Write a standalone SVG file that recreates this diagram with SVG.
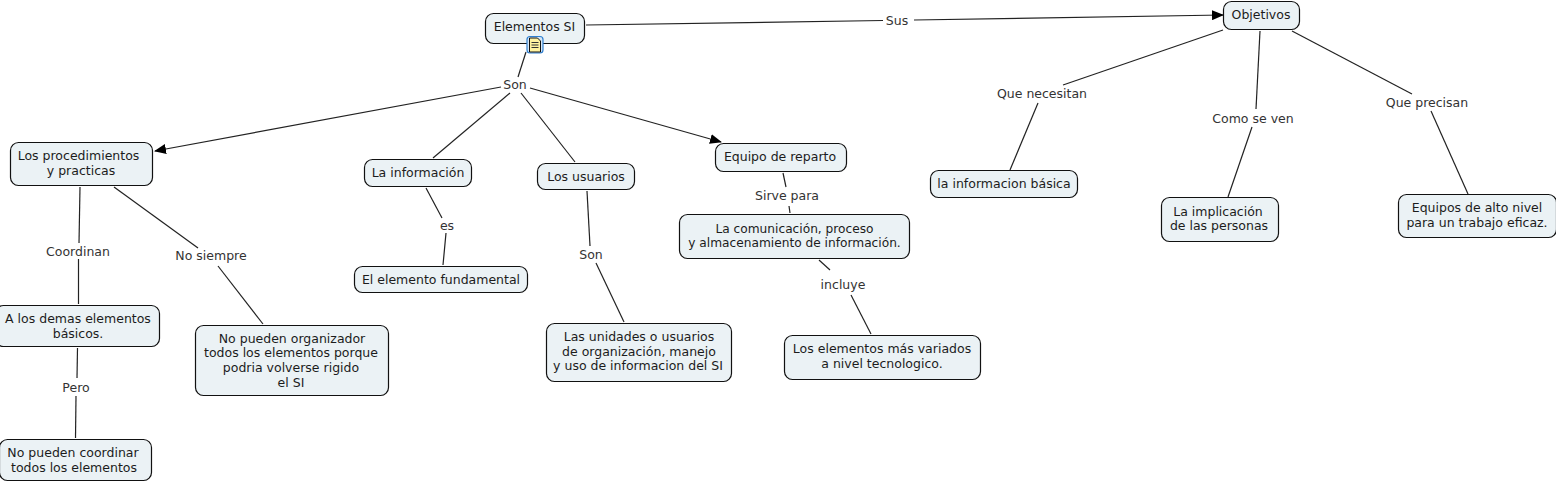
<svg xmlns="http://www.w3.org/2000/svg" width="1556" height="483" viewBox="0 0 1556 483">
<style>
text{font-family:"DejaVu Sans",Verdana,sans-serif;font-size:12.500px;fill:#1c1c1c;text-anchor:middle}
.n{fill:#ebf2f5;stroke:#111;stroke-width:1.2}
.l{fill:#333}
.t{font-size:12.200px}
#connectors line{stroke:#222;stroke-width:1.2}
</style>
<defs><marker id="a" markerUnits="userSpaceOnUse" markerWidth="12" markerHeight="10" refX="11" refY="5" orient="auto"><path d="M0 0L12 5L0 10Z" fill="#000"/></marker></defs>
<rect width="1556" height="483" fill="#fff"/>
<g id="connectors">
<line x1="586" y1="25" x2="883" y2="20.5"/><line x1="914" y1="20" x2="1223" y2="15" marker-end="url(#a)"/>
<line x1="526" y1="52" x2="518" y2="77"/>
<line x1="501" y1="87" x2="155" y2="151" marker-end="url(#a)"/>
<line x1="510" y1="93" x2="433" y2="158"/>
<line x1="521" y1="93" x2="575" y2="162"/>
<line x1="530" y1="88" x2="721" y2="142" marker-end="url(#a)"/>
<line x1="1223" y1="30" x2="1063" y2="85"/><line x1="1038" y1="103" x2="1010" y2="170"/>
<line x1="1260" y1="31" x2="1256" y2="109"/><line x1="1252" y1="127" x2="1228" y2="197"/>
<line x1="1292" y1="31" x2="1412" y2="94"/><line x1="1431" y1="111" x2="1468" y2="194"/>
<line x1="80" y1="187" x2="79" y2="243"/><line x1="78.500" y1="259" x2="78.500" y2="304"/>
<line x1="114" y1="187" x2="198" y2="248"/><line x1="218" y1="266" x2="263" y2="324"/>
<line x1="77.500" y1="348" x2="77" y2="378"/><line x1="76" y1="396" x2="75.500" y2="438"/>
<line x1="426" y1="188" x2="442" y2="218"/><line x1="446" y1="233" x2="443" y2="265"/>
<line x1="587" y1="191" x2="590" y2="246"/><line x1="596" y1="263" x2="624" y2="322"/>
<line x1="783" y1="173" x2="786" y2="187"/><line x1="789" y1="206" x2="790" y2="213"/>
<line x1="819" y1="260" x2="830" y2="270"/><line x1="851" y1="295" x2="871" y2="334"/>
</g>
<g id="elementos"><rect class="n" x="485.500" y="13.500" width="99" height="30" rx="8"/><text x="534.500" y="31">Elementos SI</text>
<rect x="527" y="36.500" width="16" height="16.500" rx="3" fill="#d5e6f5" stroke="#2f7fd0" stroke-width="1.200"/><path d="M529.500 38h8l3 3v11h-11z" fill="#fff2a0" stroke="#111"/><path d="M531.500 42.500h7M531.500 45h7M531.500 47.500h7" stroke="#333"/></g>
<g id="objetivos"><rect class="n" x="1223.500" y="1.500" width="76" height="28" rx="8"/><text x="1261" y="18.500">Objetivos</text></g>
<g id="procedimientos"><rect class="n" x="10.500" y="142.500" width="142" height="43" rx="8"/><text x="78.500" y="160">Los procedimientos</text><text x="81" y="175">y practicas</text></g>
<g id="informacion"><rect class="n" x="364.500" y="159.500" width="107" height="27" rx="8"/><text x="418" y="177">La información</text></g>
<g id="usuarios"><rect class="n" x="537.500" y="163.500" width="97" height="26" rx="8"/><text x="586" y="180.500">Los usuarios</text></g>
<g id="equipo"><rect class="n" x="715.500" y="143.500" width="131" height="28" rx="8"/><text x="780" y="161">Equipo de reparto</text></g>
<g id="comunicacion"><rect class="n" x="679.500" y="214.500" width="230" height="44" rx="8"/><text class="t" x="794.500" y="233">La comunicación, proceso</text><text class="t" x="794.500" y="247">y almacenamiento de información.</text></g>
<g id="basica"><rect class="n" x="930.500" y="170.500" width="147" height="27" rx="8"/><text x="1004" y="188">la informacion básica</text></g>
<g id="implicacion"><rect class="n" x="1161.500" y="197.500" width="117" height="44" rx="8"/><text x="1218" y="216">La implicación</text><text x="1219" y="230">de las personas</text></g>
<g id="alto"><rect class="n" x="1398.500" y="194.500" width="158" height="43" rx="8"/><text x="1477" y="212">Equipos de alto nivel</text><text x="1477" y="227">para un trabajo eficaz.</text></g>
<g id="demas"><rect class="n" x="-4.500" y="305.500" width="164" height="41" rx="8"/><text x="78" y="323">A los demas elementos</text><text x="78" y="338">básicos.</text></g>
<g id="noorganizar"><rect class="n" x="195.500" y="325.500" width="193" height="70" rx="8"/><text x="292" y="343">No pueden organizador</text><text x="291" y="357">todos los elementos porque</text><text x="291" y="372">podria volverse rigido</text><text x="291" y="387">el SI</text></g>
<g id="nocoordinar"><rect class="n" x="-0.500" y="439.500" width="152" height="41" rx="8"/><text x="73" y="457">No pueden coordinar</text><text x="74" y="472">todos los elementos</text></g>
<g id="fundamental"><rect class="n" x="354.500" y="266.500" width="173" height="26" rx="8"/><text x="441" y="284">El elemento fundamental</text></g>
<g id="unidades"><rect class="n" x="546.500" y="323.500" width="185" height="58" rx="8"/><text x="639" y="341">Las unidades o usuarios</text><text x="639" y="356">de organización, manejo</text><text x="638" y="370">y uso de informacion del SI</text></g>
<g id="variados"><rect class="n" x="784.500" y="335.500" width="196" height="44" rx="8"/><text x="882" y="353">Los elementos más variados</text><text x="882" y="368">a nivel tecnologico.</text></g>
<g id="labels">
<text class="l" x="897" y="25">Sus</text><text class="l" x="515" y="89">Son</text><text class="l" x="1042" y="98">Que necesitan</text><text class="l" x="1253" y="123">Como se ven</text><text class="l" x="1427" y="107">Que precisan</text>
<text class="l" x="78" y="256">Coordinan</text><text class="l" x="211" y="260">No siempre</text><text class="l" x="76" y="392">Pero</text><text class="l" x="447" y="230">es</text><text class="l" x="591" y="259">Son</text><text class="l" x="787" y="200">Sirve para</text><text class="l" x="843" y="289">incluye</text>
</g>
</svg>
